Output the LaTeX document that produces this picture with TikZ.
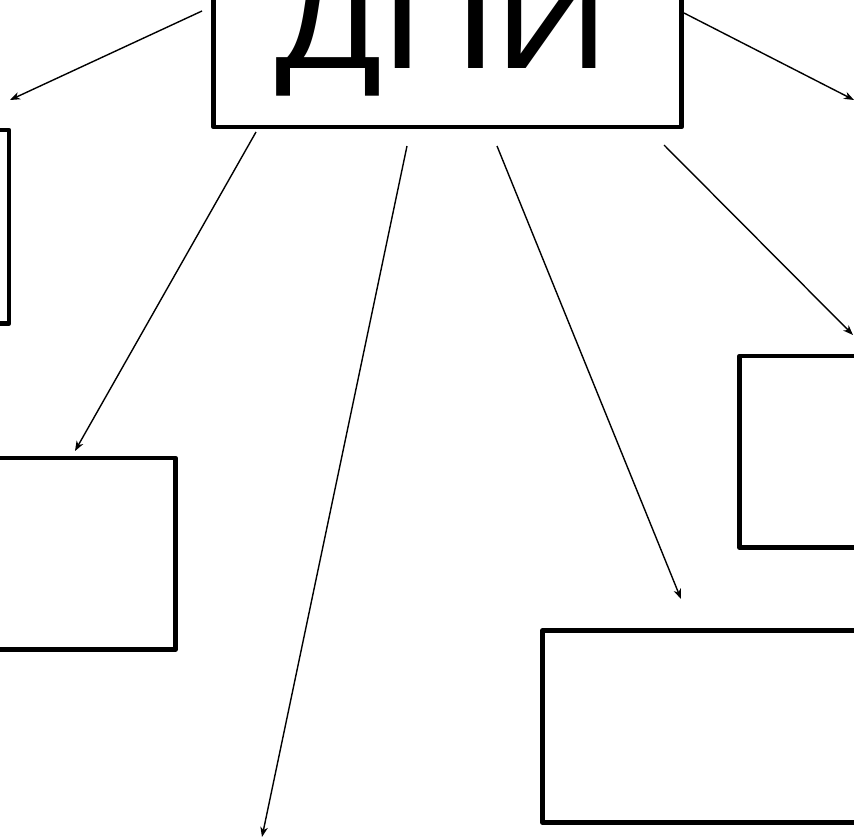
\documentclass[tikz,border=0pt]{standalone}
\usepackage{fontspec}
\setmainfont{Liberation Sans}
\usetikzlibrary{arrows.meta}
\begin{document}
\begin{tikzpicture}[x=1pt,y=-1pt,
  box/.style={draw, rectangle, line width=4.5pt, line join=round, inner sep=0pt, outer sep=0pt},
  conn/.style={line width=1.4pt, -{Stealth[length=10pt,width=7.5pt,inset=3pt]}}]
\useasboundingbox (0,0) rectangle (854,839);
\clip (0,0) rectangle (854,839);
% boxes
\node[box, minimum width=468pt, minimum height=207pt] (main) at (447.5,23.5) {};
\node[box, minimum width=39pt, minimum height=193.5pt] (tl) at (-10.5,226.75) {};
\node[box, minimum width=205.5pt, minimum height=191.5pt] (lm) at (72.75,553.75) {};
\node[box, minimum width=160.5pt, minimum height=191.5pt] (ru) at (819.75,451.75) {};
\node[box, minimum width=357.5pt, minimum height=192pt] (br) at (721.25,726.5) {};
% title
\node[anchor=base, inner sep=0pt, font=\fontsize{139}{139}\selectfont] (title) at (442,68) {\scalebox{1.134}[1]{ДПИ}};
% connector ends
\coordinate (s1) at (202,11);  \coordinate (e1) at (10,100);
\coordinate (s2) at (684,13);  \coordinate (e2) at (854,100);
\coordinate (s3) at (256,132); \coordinate (e3) at (75,451);
\coordinate (s4) at (407,146); \coordinate (e4) at (262,837);
\coordinate (s5) at (497,146); \coordinate (e5) at (681,599);
\coordinate (s6) at (664,145); \coordinate (e6) at (853,335);
\draw[conn] (s1) -- (e1);
\draw[conn] (s2) -- (e2);
\draw[conn] (s3) -- (e3);
\draw[conn] (s4) -- (e4);
\draw[conn] (s5) -- (e5);
\draw[conn] (s6) -- (e6);
\end{tikzpicture}
\end{document}
